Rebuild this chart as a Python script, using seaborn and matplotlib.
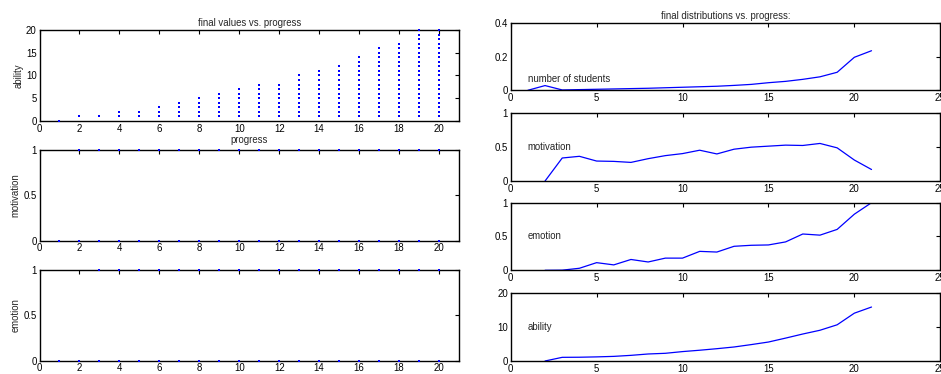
import numpy as np
import pandas as pd
import matplotlib
matplotlib.use("Agg")
import matplotlib.pyplot as plt
import seaborn as sns

# ---- data ----
progress = list(range(1, 21))
ability_min = [0, 1, 1, 1, 1, 1, 1, 1, 1, 1, 1, 1, 1, 1, 1, 1, 1, 1, 1, 1]
ability_max = [0, 1, 1, 2, 2, 3, 4, 5, 6, 7, 8, 8, 10, 11, 12, 14, 16, 17, 20, 20]
motivation_first_one = 2   # motivation==1 observed from this progress on
emotion_first_one = 3      # emotion==1 observed from this progress on

dist_x = list(range(1, 22))
students = [0.0, 0.028, 0.002, 0.004, 0.006, 0.008, 0.010, 0.012, 0.015, 0.018,
            0.021, 0.024, 0.029, 0.035, 0.045, 0.053, 0.065, 0.080, 0.107, 0.196, 0.235]
motivation_d = [np.nan, 0.0, 0.34, 0.365, 0.295, 0.29, 0.275, 0.33, 0.375, 0.405,
                0.455, 0.40, 0.47, 0.50, 0.515, 0.53, 0.525, 0.555, 0.49, 0.31, 0.17]
emotion_d = [np.nan, 0.0, 0.002, 0.03, 0.113, 0.08, 0.16, 0.123, 0.18, 0.18,
             0.28, 0.27, 0.355, 0.37, 0.375, 0.42, 0.537, 0.52, 0.605, 0.83, 1.0]
ability_d = [np.nan, 0.0, 1.07, 1.1, 1.2, 1.35, 1.65, 2.05, 2.25, 2.75,
             3.15, 3.6, 4.1, 4.8, 5.55, 6.7, 7.9, 9.0, 10.6, 14.0, 15.8]

# build point tables
ab_rows = []
for p, lo, hi in zip(progress, ability_min, ability_max):
    for v in range(lo, hi + 1):
        ab_rows.append((p, v))
ab_df = pd.DataFrame(ab_rows, columns=["progress", "ability"])

mot_rows = [(p, 0) for p in progress] + [(p, 1) for p in progress if p >= motivation_first_one]
mot_df = pd.DataFrame(mot_rows, columns=["progress", "motivation"])
emo_rows = [(p, 0) for p in progress] + [(p, 1) for p in progress if p >= emotion_first_one]
emo_df = pd.DataFrame(emo_rows, columns=["progress", "emotion"])

dist_df = pd.DataFrame({"x": dist_x, "students": students, "motivation": motivation_d,
                        "emotion": emotion_d, "ability": ability_d})

sns.set_style("white")
plt.rcParams['font.family'] = ['Liberation Sans', 'DejaVu Sans']

fig = plt.figure(figsize=(9.41, 3.74), dpi=100)
BLUE = "#0000ff"
FS = 6.9

def style(ax):
    ax.tick_params(direction="in", top=True, right=True, length=3, width=0.8,
                   labelsize=FS, pad=2, colors="black")
    for s in ax.spines.values():
        s.set_visible(True)
        s.set_linewidth(1.0)
        s.set_color("black")

# Left column
L_x, L_w = 0.042, 0.4458
axL1 = fig.add_axes([L_x, 0.6765, L_w, 0.2433])
axL2 = fig.add_axes([L_x, 0.3564, L_w, 0.2425])
axL3 = fig.add_axes([L_x, 0.0356, L_w, 0.2425])

MS = 3.0
sns.scatterplot(data=ab_df, x="progress", y="ability", ax=axL1, color=BLUE,
                s=MS, marker="s", linewidth=0, clip_on=False, zorder=5)
sns.scatterplot(data=mot_df, x="progress", y="motivation", ax=axL2, color=BLUE,
                s=MS, marker="s", linewidth=0, clip_on=False, zorder=5)
sns.scatterplot(data=emo_df, x="progress", y="emotion", ax=axL3, color=BLUE,
                s=MS, marker="s", linewidth=0, clip_on=False, zorder=5)

axL1.set_ylim(0, 20); axL1.set_yticks([0, 5, 10, 15, 20])
for ax in (axL2, axL3):
    ax.set_ylim(0, 1); ax.set_yticks([0, 0.5, 1]); ax.set_yticklabels(["0", "0.5", "1"])
for ax in (axL1, axL2, axL3):
    ax.set_xlim(0, 21); ax.set_xticks(range(0, 21, 2))
    style(ax)
    ax.set_xlabel("")
axL1.set_xlabel("progress", fontsize=FS, labelpad=1)
axL1.set_ylabel("ability", fontsize=FS, labelpad=2)
axL2.set_ylabel("motivation", fontsize=FS, labelpad=2)
axL3.set_ylabel("emotion", fontsize=FS, labelpad=2)
axL1.set_title("final values vs. progress", fontsize=FS, pad=3)

# Right column
R_x, R_w = 0.5427, 0.4565
axR1 = fig.add_axes([R_x, 0.7586, R_w, 0.180])
axR2 = fig.add_axes([R_x, 0.516, R_w, 0.181])
axR3 = fig.add_axes([R_x, 0.2773, R_w, 0.1807])
axR4 = fig.add_axes([R_x, 0.0348, R_w, 0.1826])

specs = [
    (axR1, "students", "number of students", (0, 0.4), [0, 0.2, 0.4], ["0", "0.2", "0.4"], 0.07),
    (axR2, "motivation", "motivation", (0, 1), [0, 0.5, 1], ["0", "0.5", "1"], 0.5),
    (axR3, "emotion", "emotion", (0, 1), [0, 0.5, 1], ["0", "0.5", "1"], 0.5),
    (axR4, "ability", "ability", (0, 20), [0, 10, 20], ["0", "10", "20"], 10),
]
for ax, col, label, ylim, yt, ytl, ty in specs:
    sns.lineplot(data=dist_df, x="x", y=col, ax=ax, color=BLUE, linewidth=0.9)
    ax.set_xlim(0, 25); ax.set_xticks(range(0, 26, 5))
    ax.set_ylim(*ylim); ax.set_yticks(yt); ax.set_yticklabels(ytl)
    ax.set_xlabel(""); ax.set_ylabel("")
    ax.text(1, ty, label, fontsize=FS, va="center", ha="left")
    style(ax)
axR1.set_title("final distributions vs. progress:", fontsize=FS, pad=3)

fig.savefig("out.png", dpi=100)
